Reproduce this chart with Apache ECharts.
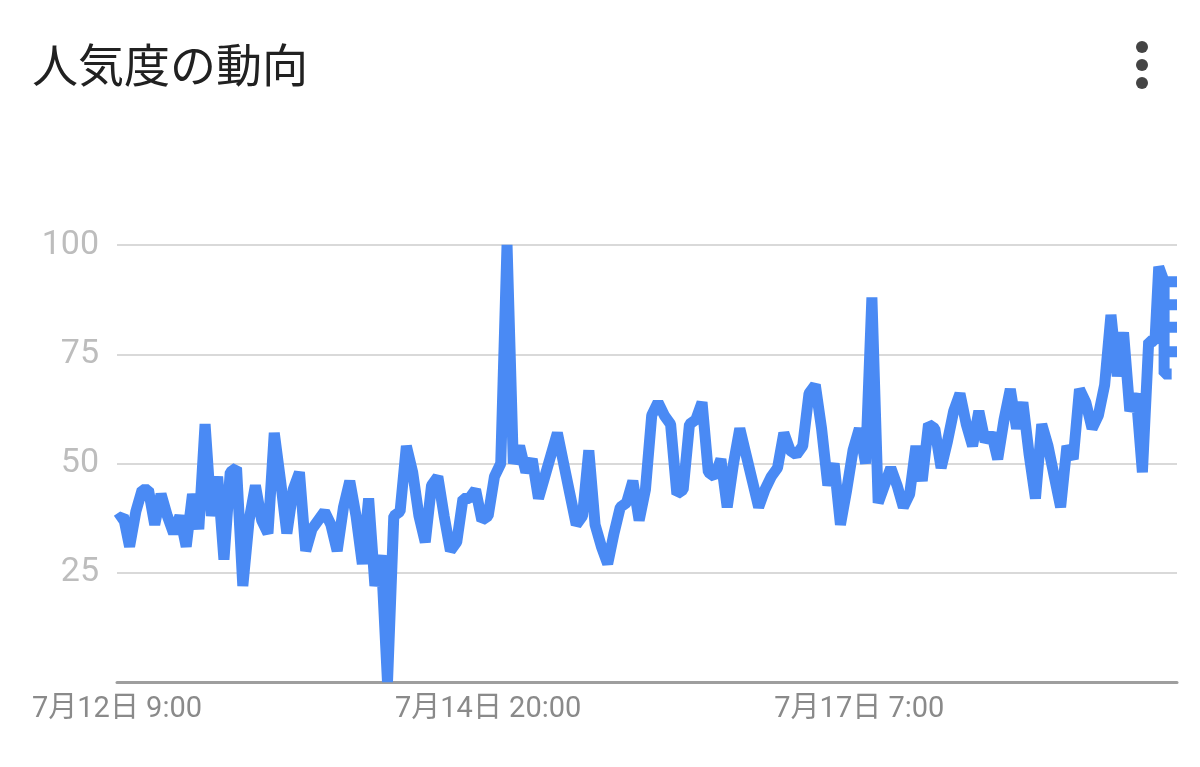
<!DOCTYPE html>
<html>
<head>
<meta charset="utf-8">
<script src="https://cdn.jsdelivr.net/npm/echarts@6/dist/echarts.min.js"></script>
<style>
html,body{margin:0;padding:0;background:#fff;}
#chart{width:1200px;height:767px;}
</style>
</head>
<body>
<div id="chart"></div>
<script>
// ---- data ----
const titleText = '人気度の動向';
// hourly popularity values, starting 7月12日 9:00
const hourlyValues = [
  37,38,31,39,44,44,36,43,38,34,
  38,31,43,35,59,38,47,28,48,49,
  22,37,45,37,34,57,46,34,44,48,
  30,35,37,39,36,30,40,46,38,27,
  42,22,29,0,38,39,54,48,38,32,
  45,47,38,30,32,42,42,44,37,38,
  47,50,100,50,54,48,51,42,47,52,
  57,50,43,36,38,53,36,31,27,34,
  40,41,46,37,44,61,64,61,59,43,
  44,59,60,64,48,47,51,40,50,58,
  52,46,40,44,47,49,57,53,52,54,
  66,68,58,45,50,36,44,53,58,50,
  88,41,45,49,45,40,43,54,46,59,
  58,49,55,62,66,59,54,62,55,57,
  51,60,67,58,64,52,42,59,54,47,
  40,54,51,67,64,58,61,68,84,70,
  80,62,66,48,78,78
];
// final partial-hour readings (hours from start)
const tailHours  = [165.6, 166.45, 168.5, 166.45, 166.45, 168.5, 166.45, 166.45, 168.5, 166.45, 166.45, 168.5, 166.45, 166.45, 167.65];
const tailValues = [95,    91.6,   91.6,  91.6,   86.3,   86.3,  86.3,   81.2,   81.2,  81.2,   75.6,   75.6,  75.6,   70.5,   70.5];
// x tick labels (hours from start -> label)
const xTickHours  = [0, 59, 118];
const xTickLabels = ['7月12日 9:00', '7月14日 20:00', '7月17日 7:00'];
const yTicks = [25, 50, 75, 100];

// ---- build ----
const seriesData = hourlyValues.map((v, i) => [i, v])
  .concat(tailHours.map((h, i) => [h, tailValues[i]]));

const chart = echarts.init(document.getElementById('chart'), null, {renderer: 'canvas'});
chart.setOption({
  animation: false,
  backgroundColor: '#ffffff',
  title: {
    text: titleText,
    left: 27,
    top: 37,
    textStyle: {
      fontFamily: '"Noto Sans CJK JP", "Noto Sans", sans-serif',
      fontSize: 46,
      fontWeight: 'normal',
      color: '#212121'
    }
  },
  graphic: [
    {type: 'circle', shape: {cx: 1142, cy: 47, r: 6}, style: {fill: '#444'}},
    {type: 'circle', shape: {cx: 1142, cy: 65, r: 6}, style: {fill: '#444'}},
    {type: 'circle', shape: {cx: 1142, cy: 83, r: 6}, style: {fill: '#444'}}
  ],
  grid: {left: 117, right: 23, top: 245, bottom: 85, containLabel: false},
  xAxis: {
    type: 'value',
    min: 0,
    max: 168.5,
    interval: 59,
    axisLine: {show: true, lineStyle: {color: '#9e9e9e', width: 3}},
    axisTick: {show: false},
    splitLine: {show: false},
    axisLabel: {
      showMaxLabel: false,
      margin: 13,
      fontSize: 29,
      color: '#8a8a8a',
      fontFamily: 'Roboto, "Noto Sans CJK JP", sans-serif',
      formatter: function (v) {
        const idx = xTickHours.indexOf(Math.round(v));
        return idx >= 0 && Math.abs(v - xTickHours[idx]) < 0.01 ? xTickLabels[idx] : '';
      }
    }
  },
  yAxis: {
    type: 'value',
    min: 0,
    max: 100,
    interval: 25,
    axisLine: {show: false},
    axisTick: {show: false},
    splitLine: {show: true, lineStyle: {color: '#d9d9d9', width: 2}},
    axisLabel: {
      margin: 18,
      fontSize: 34,
      color: '#bdbdbd',
      padding: [6, 0, 0, 0],
      fontFamily: 'Roboto, sans-serif',
      formatter: function (v) { return yTicks.indexOf(v) >= 0 ? String(v) : ''; }
    }
  },
  series: [{
    type: 'line',
    data: seriesData,
    showSymbol: false,
    clip: false,
    z: 1,
    lineStyle: {color: '#4a8af4', width: 11, join: 'bevel', cap: 'butt'}
  }]
});
</script>
</body>
</html>
